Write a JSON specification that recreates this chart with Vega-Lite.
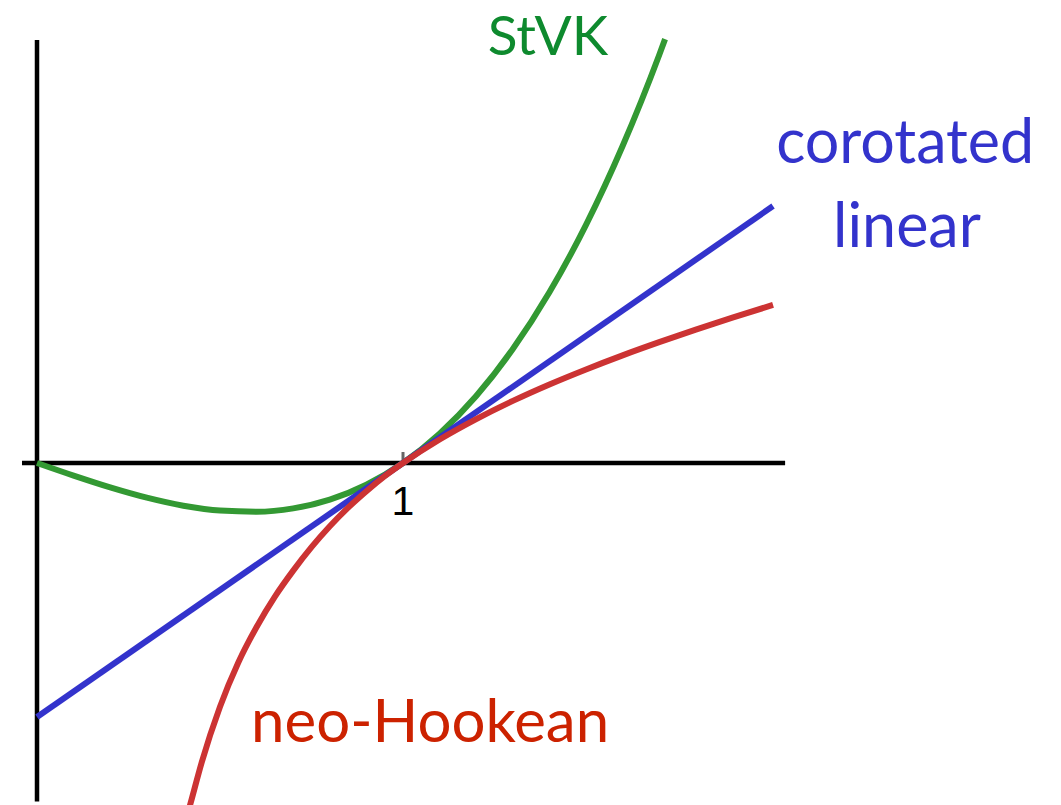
{
  "$schema": "https://vega.github.io/schema/vega-lite/v6.json",
  "width": 1061,
  "height": 805,
  "padding": 0,
  "autosize": {"type": "none"},
  "background": "white",
  "config": {"view": {"stroke": null}},
  "datasets": {
    "curves": [
      {"series": "StVK", "x": 0, "y": 0},
      {"series": "StVK", "x": 0.1, "y": -0.0344},
      {"series": "StVK", "x": 0.2, "y": -0.0666},
      {"series": "StVK", "x": 0.3, "y": -0.0947},
      {"series": "StVK", "x": 0.4, "y": -0.1166},
      {"series": "StVK", "x": 0.5, "y": -0.1301},
      {"series": "StVK", "x": 0.6, "y": -0.1332},
      {"series": "StVK", "x": 0.7, "y": -0.1239},
      {"series": "StVK", "x": 0.8, "y": -0.0999},
      {"series": "StVK", "x": 0.9, "y": -0.0593},
      {"series": "StVK", "x": 1.0, "y": 0},
      {"series": "StVK", "x": 1.1, "y": 0.0802},
      {"series": "StVK", "x": 1.2, "y": 0.1832},
      {"series": "StVK", "x": 1.3, "y": 0.3113},
      {"series": "StVK", "x": 1.4, "y": 0.4664},
      {"series": "StVK", "x": 1.5, "y": 0.6506},
      {"series": "StVK", "x": 1.6, "y": 0.8661},
      {"series": "StVK", "x": 1.7, "y": 1.1149},
      {"series": "StVK", "x": 1.716, "y": 1.158},
      {"series": "corotated", "x": 0, "y": -0.694},
      {"series": "corotated", "x": 2.011, "y": 0.702},
      {"series": "neoHookean", "x": 0.40, "y": -1.0},
      {"series": "neoHookean", "x": 0.42, "y": -0.928},
      {"series": "neoHookean", "x": 0.45, "y": -0.818},
      {"series": "neoHookean", "x": 0.5, "y": -0.666},
      {"series": "neoHookean", "x": 0.55, "y": -0.545},
      {"series": "neoHookean", "x": 0.6, "y": -0.448},
      {"series": "neoHookean", "x": 0.65, "y": -0.365},
      {"series": "neoHookean", "x": 0.7, "y": -0.294},
      {"series": "neoHookean", "x": 0.75, "y": -0.230},
      {"series": "neoHookean", "x": 0.8, "y": -0.173},
      {"series": "neoHookean", "x": 0.85, "y": -0.122},
      {"series": "neoHookean", "x": 0.9, "y": -0.077},
      {"series": "neoHookean", "x": 0.95, "y": -0.036},
      {"series": "neoHookean", "x": 1.0, "y": 0},
      {"series": "neoHookean", "x": 1.1, "y": 0.0643},
      {"series": "neoHookean", "x": 1.2, "y": 0.1200},
      {"series": "neoHookean", "x": 1.3, "y": 0.1697},
      {"series": "neoHookean", "x": 1.4, "y": 0.2146},
      {"series": "neoHookean", "x": 1.5, "y": 0.2557},
      {"series": "neoHookean", "x": 1.6, "y": 0.2942},
      {"series": "neoHookean", "x": 1.7, "y": 0.3302},
      {"series": "neoHookean", "x": 1.8, "y": 0.3645},
      {"series": "neoHookean", "x": 1.9, "y": 0.3971},
      {"series": "neoHookean", "x": 2.011, "y": 0.4319}
    ],
    "axes": [
      {"name": "h", "x": -0.041, "x2": 2.044, "y": 0, "y2": 0},
      {"name": "v", "x": 0, "x2": 0, "y": 1.156, "y2": -0.925}
    ],
    "labels": [
      {"label": "StVK", "x": 1.396, "y": 1.115, "series": "StVK"},
      {"label": "corotated", "x": 2.372, "y": 0.820, "series": "corotated"},
      {"label": "linear", "x": 2.377, "y": 0.590, "series": "corotated"},
      {"label": "neo-Hookean", "x": 1.074, "y": -0.762, "series": "neoHookean"}
    ]
  },
  "encoding": {
    "x": {"type": "quantitative", "scale": {"domain": [-0.1011, 2.7978], "nice": false, "zero": false}, "axis": null},
    "y": {"type": "quantitative", "scale": {"domain": [-0.9344, 1.265], "nice": false, "zero": false}, "axis": null}
  },
  "layer": [
    {
      "data": {"name": "axes"},
      "mark": {"type": "rule", "color": "black", "strokeWidth": 4.5},
      "encoding": {
        "x": {"field": "x", "type": "quantitative"},
        "x2": {"field": "x2"},
        "y": {"field": "y", "type": "quantitative"},
        "y2": {"field": "y2"}
      }
    },
    {
      "data": {"values": [{"x": 1, "y": 0, "y2": 0.03}]},
      "mark": {"type": "rule", "color": "#666666", "strokeWidth": 3},
      "encoding": {
        "x": {"field": "x", "type": "quantitative"},
        "y": {"field": "y", "type": "quantitative"},
        "y2": {"field": "y2"}
      }
    },
    {
      "data": {"values": [{"label": "1", "x": 1.0, "y": -0.142}]},
      "mark": {"type": "text", "font": "Liberation Sans", "fontSize": 41, "color": "black", "align": "center", "baseline": "alphabetic"},
      "encoding": {
        "x": {"field": "x", "type": "quantitative"},
        "y": {"field": "y", "type": "quantitative"},
        "text": {"field": "label"}
      }
    },
    {
      "data": {"name": "curves"},
      "transform": [{"filter": "datum.series === 'StVK'"}],
      "mark": {"type": "line", "color": "#339933", "strokeWidth": 6, "clip": true, "interpolate": "monotone"},
      "encoding": {
        "x": {"field": "x", "type": "quantitative"},
        "y": {"field": "y", "type": "quantitative"}
      }
    },
    {
      "data": {"name": "curves"},
      "transform": [{"filter": "datum.series === 'corotated'"}],
      "mark": {"type": "line", "color": "#3333cc", "strokeWidth": 6, "clip": true},
      "encoding": {
        "x": {"field": "x", "type": "quantitative"},
        "y": {"field": "y", "type": "quantitative"}
      }
    },
    {
      "data": {"name": "curves"},
      "transform": [{"filter": "datum.series === 'neoHookean'"}],
      "mark": {"type": "line", "color": "#cc3333", "strokeWidth": 6, "clip": true, "interpolate": "monotone"},
      "encoding": {
        "x": {"field": "x", "type": "quantitative"},
        "y": {"field": "y", "type": "quantitative"}
      }
    },
    {
      "data": {"name": "labels"},
      "transform": [{"filter": "datum.label === 'StVK'"}],
      "mark": {"type": "text", "font": "Lato", "fontSize": 55, "color": "#0e8a2e", "align": "center", "baseline": "alphabetic"},
      "encoding": {
        "x": {"field": "x", "type": "quantitative"},
        "y": {"field": "y", "type": "quantitative"},
        "text": {"field": "label"}
      }
    },
    {
      "data": {"name": "labels"},
      "transform": [{"filter": "datum.series === 'corotated'"}],
      "mark": {"type": "text", "font": "Lato", "fontSize": 61, "color": "#3333cc", "align": "center", "baseline": "alphabetic"},
      "encoding": {
        "x": {"field": "x", "type": "quantitative"},
        "y": {"field": "y", "type": "quantitative"},
        "text": {"field": "label"}
      }
    },
    {
      "data": {"name": "labels"},
      "transform": [{"filter": "datum.label === 'neo-Hookean'"}],
      "mark": {"type": "text", "font": "Lato", "fontSize": 60, "color": "#cc2200", "align": "center", "baseline": "alphabetic"},
      "encoding": {
        "x": {"field": "x", "type": "quantitative"},
        "y": {"field": "y", "type": "quantitative"},
        "text": {"field": "label"}
      }
    }
  ]
}
